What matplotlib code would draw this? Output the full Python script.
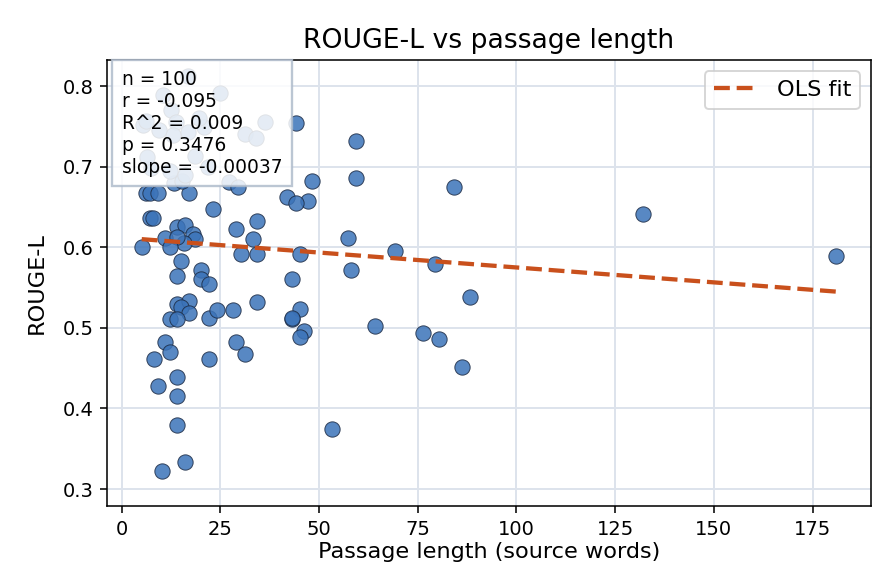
import numpy as np
import matplotlib
matplotlib.use("Agg")
import matplotlib.pyplot as plt

passage_len = [
    181, 132, 84.1, 59.3, 59.3, 48.1, 47.1, 42.0, 44.1, 44.1,
    36.2, 57.3, 45.2, 69.2, 79.3, 58.2, 43.1, 88.2, 45.2, 43.1,
    43.1, 46.2, 45.2, 64.1, 76.3, 80.4, 86.2, 53.2, 23.1, 7.2,
    8.0, 14.1, 16.0, 29.1, 34.4, 11.1, 18.0, 18.6, 15.8, 14.1,
    5.1, 12.2, 33.2, 30.3, 34.3, 15.0, 14.1, 20.1, 20.1, 22.2,
    14.1, 17.0, 15.0, 17.0, 12.2, 14.1, 22.1, 24.1, 28.2, 34.3,
    11.1, 12.2, 8.2, 22.1, 29.1, 31.2, 14.0, 9.2, 14.0, 14.0,
    16.0, 10.2, 6.1, 7.3, 9.1, 17.0, 27.1, 29.4, 13.2, 15.4,
    10.6, 24.8, 12.4, 16.7, 5.3, 6.1, 13.7, 16.7, 31.2, 34.0,
    18.7, 7.4, 12.2, 16.0, 20.8, 12.9, 9.5, 22.0, 6.5, 19.5,
]
rouge_l = [
    0.589, 0.641, 0.675, 0.732, 0.686, 0.682, 0.657, 0.662, 0.655, 0.754,
    0.755, 0.611, 0.592, 0.595, 0.579, 0.572, 0.561, 0.538, 0.523, 0.511,
    0.512, 0.496, 0.489, 0.502, 0.493, 0.486, 0.451, 0.375, 0.647, 0.636,
    0.636, 0.625, 0.628, 0.622, 0.633, 0.611, 0.616, 0.610, 0.605, 0.613,
    0.600, 0.600, 0.610, 0.592, 0.592, 0.583, 0.564, 0.572, 0.561, 0.554,
    0.530, 0.533, 0.526, 0.519, 0.511, 0.511, 0.512, 0.522, 0.522, 0.532,
    0.482, 0.470, 0.461, 0.461, 0.482, 0.468, 0.439, 0.428, 0.416, 0.380,
    0.333, 0.322, 0.667, 0.667, 0.667, 0.667, 0.681, 0.675, 0.680, 0.682,
    0.789, 0.791, 0.770, 0.812, 0.752, 0.756, 0.755, 0.743, 0.740, 0.736,
    0.713, 0.698, 0.694, 0.689, 0.749, 0.739, 0.745, 0.700, 0.712, 0.760,
]

fit_slope = -0.00037
fit_intercept = 0.6119
stats_lines = ["n = 100", "r = -0.095", "R^2 = 0.009", "p = 0.3476", "slope = -0.00037"]

x = np.array(passage_len)
y = np.array(rouge_l)

fig = plt.figure(figsize=(6.4, 584 / 140), dpi=140)
ax = fig.add_axes([0.1194, 0.1336, 0.9721 - 0.1194, 0.8973 - 0.1336])

ax.grid(True, color="#dde3ec", linewidth=1.0, zorder=0)
ax.set_axisbelow(True)

ax.scatter(x, y, s=62, color="#3b73b9", alpha=0.85, edgecolors="#1c2b44",
           linewidths=0.5, zorder=2)

xf = np.array([x.min(), x.max()])
ax.plot(xf, fit_intercept + fit_slope * xf, linestyle="--", color="#c9501c",
        linewidth=2.2, label="OLS fit", zorder=3)

ax.set_xlim(-3.7, 189.8)
ax.set_ylim(0.279, 0.8323)
ax.set_xticks([0, 25, 50, 75, 100, 125, 150, 175])
ax.set_yticks([0.3, 0.4, 0.5, 0.6, 0.7, 0.8])

ax.set_title("ROUGE-L vs passage length", fontsize=13.7)
ax.set_xlabel("Passage length (source words)", fontsize=11.5, labelpad=1.5)
ax.set_ylabel("ROUGE-L", fontsize=11.5, labelpad=8)
ax.tick_params(labelsize=10)

ax.legend(loc="upper right", fontsize=11.5)

ax.text(0.0192, 0.978, "\n".join(stats_lines), transform=ax.transAxes,
        va="top", ha="left", fontsize=9.6, zorder=5,
        bbox=dict(boxstyle="square,pad=0.5", facecolor="white", alpha=0.85,
                  edgecolor="#b0bccc", linewidth=1.2))

fig.savefig("out.png", dpi=140)
